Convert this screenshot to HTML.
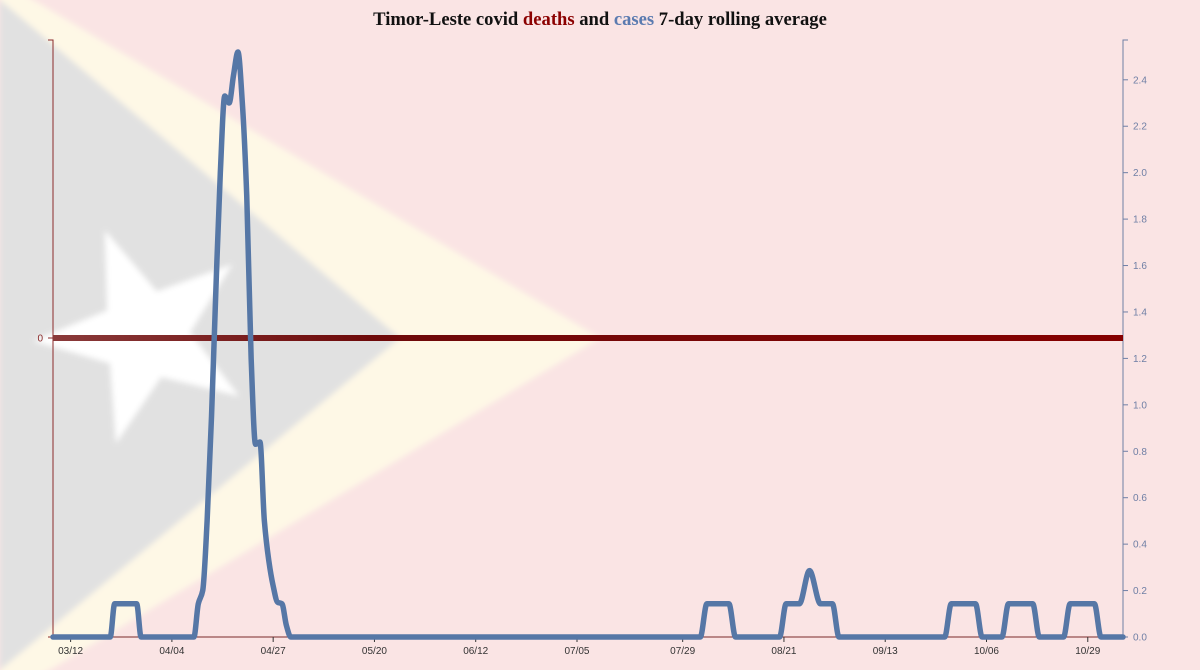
<!DOCTYPE html>
<html><head><meta charset="utf-8"><style>
body{margin:0;width:1200px;height:670px;overflow:hidden;background:#fae4e4}
svg{display:block}
</style></head><body>
<svg id="chart" width="1200" height="670" xmlns="http://www.w3.org/2000/svg">
<defs>
<filter id="blur"><feGaussianBlur stdDeviation="3"/></filter>
<linearGradient id="deathGrad" gradientUnits="userSpaceOnUse" x1="53" y1="0" x2="1123" y2="0">
<stop offset="0" stop-color="#8a3a3a"/><stop offset="0.3" stop-color="#6e0a0a"/><stop offset="1" stop-color="#850000"/>
</linearGradient>
</defs>
<g filter="url(#blur)">
<rect x="0" y="0" width="1200" height="670" fill="#fae4e4"/>
<polygon points="0,-20 600,338 0,700" fill="#fef8e6"/>
<polygon points="0,0 400,338 0,670" fill="#e1e1e1"/>
<g transform="translate(145,335) rotate(-21)">
<polygon id="star" fill="#ffffff"/>
</g>
</g>
<text x="600" y="25" text-anchor="middle" font-family="Liberation Serif, serif" font-weight="bold" font-size="18.6" fill="#111">Timor-Leste covid <tspan fill="#8b0000">deaths</tspan> and <tspan fill="#5b7bb0">cases</tspan> 7-day rolling average</text>
<g id="xaxis"></g>
<g id="yright"></g>
<g id="yleft"></g>
<g id="series"></g>
</svg>
<script>
// data
const tickLabels = ["03/12","04/04","04/27","05/20","06/12","07/05","07/29","08/21","09/13","10/06","10/29"];
const tickDays = [4,27,50,73,96,119,143,166,189,212,235];
const caseDays = [0,13,14,19,20,32,33,34,35,36,37,38,39,40,41,42,43,44,45,46,47,48,49,50,51,52,53,54,147,148.5,153.5,155,165,166.5,169.5,171.8,174.3,177,178.5,202.5,204,209.5,211,215.5,217,222.5,224,229.5,231,236.5,238,243];
const caseValues = [0,0,0.143,0.143,0,0,0.143,0.2,0.5,0.95,1.5,2.0,2.33,2.3,2.42,2.52,2.3,1.9,1.2,0.83,0.84,0.5,0.33,0.22,0.15,0.143,0.05,0,0,0.143,0.143,0,0,0.143,0.143,0.286,0.143,0.143,0,0,0.143,0.143,0,0,0.143,0.143,0,0,0.143,0.143,0,0];
const deathDays = [0,243];
const deathValues = [0,0];
const rightTicks = [0,0.2,0.4,0.6,0.8,1.0,1.2,1.4,1.6,1.8,2.0,2.2,2.4];

const NS="http://www.w3.org/2000/svg";
const x0=53,x1=1123,yTop=40,yBot=637;
const dayMax=243;
const xs=d=>x0+(d/dayMax)*(x1-x0);
const yMax=18/7;
const yR=v=>yBot-(v/yMax)*(yBot-yTop);
const yL=v=>338-v*298;
function mk(tag,attrs,parent){const e=document.createElementNS(NS,tag);for(const k in attrs)e.setAttribute(k,attrs[k]);parent.appendChild(e);return e;}

// star
(function(){const pts=[];for(let i=0;i<10;i++){const a=-Math.PI/2+i*Math.PI/5;const r=i%2?45:112;pts.push((r*Math.cos(a)).toFixed(1)+","+(r*Math.sin(a)).toFixed(1));}document.getElementById('star').setAttribute('points',pts.join(' '));})();

// x axis
const xa=document.getElementById('xaxis');
mk('line',{x1:x0-5,x2:x1,y1:yBot,y2:yBot,stroke:'#7a2a2a','stroke-width':1},xa);
tickDays.forEach((d,i)=>{
  const t=mk('line',{x1:xs(d),x2:xs(d),y1:yBot,y2:yBot+5,stroke:'#333'},xa);
  
  
  const l=mk('text',{x:xs(d),y:yBot+17,'text-anchor':'middle','font-family':'Liberation Sans, sans-serif','font-size':10,fill:'#333'},xa);
  l.textContent=tickLabels[i];
  
  
});
// right axis
const ra=document.getElementById('yright');
mk('path',{d:`M${x1+5},${yTop}H${x1}V${yBot}H${x1+5}`,stroke:'#6f7fa5',fill:'none'},ra);
rightTicks.forEach(v=>{
  mk('line',{x1:x1,x2:x1+5,y1:yR(v),y2:yR(v),stroke:'#6f7fa5'},ra);
  const l=mk('text',{x:x1+10,y:yR(v)+3.5,'font-family':'Liberation Sans, sans-serif','font-size':10,fill:'#6f7fa5'},ra);
  l.textContent=v.toFixed(1);
  
  
});
// left axis
const la=document.getElementById('yleft');
mk('path',{d:`M${x0-5},${yTop}H${x0}V${yBot}H${x0-5}`,stroke:'#8b2a2a',fill:'none'},la);
mk('line',{x1:x0-5,x2:x0,y1:338,y2:338,stroke:'#8b2a2a'},la);
const l0=mk('text',{x:x0-10,y:341.5,'text-anchor':'end','font-family':'Liberation Sans, sans-serif','font-size':10,fill:'#8b2a2a'},la);
l0.textContent='0';



// monotone cubic path
function monotone(px,py){
  const n=px.length;const dx=[],m=[],t=new Array(n);
  for(let i=0;i<n-1;i++){dx[i]=px[i+1]-px[i];m[i]=(py[i+1]-py[i])/dx[i];}
  t[0]=m[0];t[n-1]=m[n-2];
  for(let i=1;i<n-1;i++){ if(m[i-1]*m[i]<=0)t[i]=0; else {t[i]=3*(dx[i-1]+dx[i])/((2*dx[i]+dx[i-1])/m[i-1]+(dx[i]+2*dx[i-1])/m[i]);} }
  let d=`M${px[0]},${py[0]}`;
  for(let i=0;i<n-1;i++){const h=dx[i]/3;d+=`C${px[i]+h},${py[i]+t[i]*h},${px[i+1]-h},${py[i+1]-t[i+1]*h},${px[i+1]},${py[i+1]}`;}
  return d;
}
const sg=document.getElementById('series');
const dl=mk('path',{d:monotone(deathDays.map(xs),deathValues.map(yL)),stroke:'url(#deathGrad)','stroke-width':6,fill:'none'},sg);


const cl=mk('path',{d:monotone(caseDays.map(xs),caseValues.map(yR)),stroke:'#5677a6','stroke-width':5.5,fill:'none','stroke-linejoin':'round','stroke-linecap':'round'},sg);


</script>
</body></html>
